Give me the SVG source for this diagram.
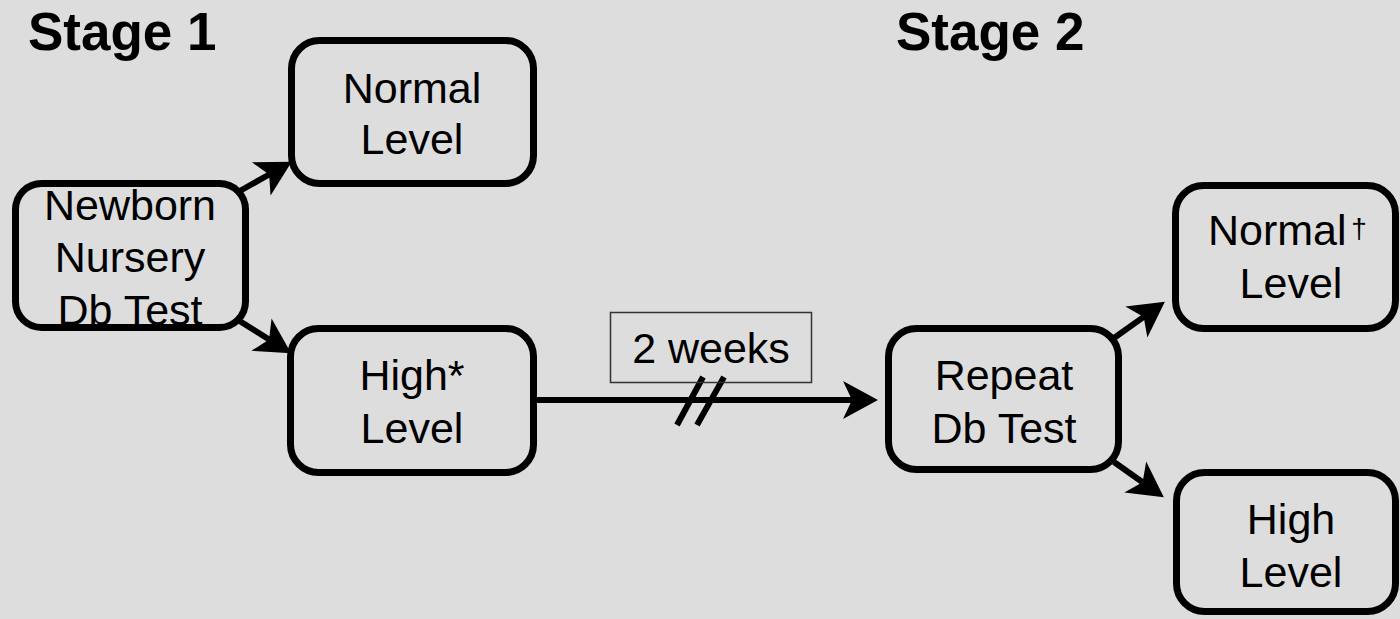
<svg xmlns="http://www.w3.org/2000/svg" width="1400" height="619" viewBox="0 0 1400 619">
<style>
.bg{fill:#dddddd}
.node{fill:none;stroke:#000;stroke-width:7}
.lbl{font-family:"Liberation Sans",Arial,sans-serif;font-size:43px;fill:#000;text-anchor:middle}
.stage{font-family:"Liberation Sans",Arial,sans-serif;font-weight:700;font-size:53px;fill:#000}
.conn{fill:none;stroke:#000;stroke-width:6}
</style>
<defs>
<marker id="ah" markerUnits="userSpaceOnUse" markerWidth="40" markerHeight="40" viewBox="0 -20 36 40" refX="9" refY="0" orient="auto">
<path d="M0,-19 L35,0 L0,19 L9,0 Z" fill="#000"/>
</marker>
</defs>
<rect class="bg" x="0" y="0" width="1400" height="619"/>
<text class="stage" x="28" y="50">Stage 1</text>
<text class="stage" x="896" y="50">Stage 2</text>
<g id="connectors">
<path class="conn" d="M238,192 L269.1,174.5" marker-end="url(#ah)"/>
<path class="conn" d="M238,320 L269.1,339.5" marker-end="url(#ah)"/>
<path class="conn" d="M534,400 L852,400" marker-end="url(#ah)"/>
<path class="conn" d="M1114,338 L1143.7,316.9" marker-end="url(#ah)"/>
<path class="conn" d="M1114,462 L1142.6,482.2" marker-end="url(#ah)"/>
<line class="conn" x1="677" y1="425" x2="703" y2="377"/>
<line class="conn" x1="697" y1="425" x2="724" y2="377"/>
</g>
<g id="weeks">
<rect x="610.5" y="312.5" width="201" height="70" fill="none" stroke="#333" stroke-width="1.5"/>
<text class="lbl" x="711" y="363">2 weeks</text>
</g>
<g id="newborn">
<rect class="node" x="15.5" y="183.5" width="230" height="144" rx="26"/>
<text class="lbl" x="130" y="220">Newborn</text>
<text class="lbl" x="130" y="272">Nursery</text>
<text class="lbl" x="130" y="325">Db Test</text>
</g>
<g id="normal1">
<rect class="node" x="291.5" y="40.5" width="242" height="143" rx="28"/>
<text class="lbl" x="412" y="103">Normal</text>
<text class="lbl" x="412" y="154">Level</text>
</g>
<g id="high1">
<rect class="node" x="290.5" y="328.5" width="243" height="144" rx="28"/>
<text class="lbl" x="412" y="390">High*</text>
<text class="lbl" x="412" y="443">Level</text>
</g>
<g id="repeat">
<rect class="node" x="888.5" y="328.5" width="230" height="141" rx="28"/>
<text class="lbl" x="1004" y="390">Repeat</text>
<text class="lbl" x="1004" y="443">Db Test</text>
</g>
<g id="normal2">
<rect class="node" x="1175.5" y="185.5" width="220" height="143" rx="28"/>
<text class="lbl" x="1208" y="245" style="text-anchor:start">Normal</text>
<text class="lbl" x="1359" y="238" style="font-size:28px">†</text>
<text class="lbl" x="1291" y="298">Level</text>
</g>
<g id="high2">
<rect class="node" x="1176.5" y="472.5" width="219" height="139" rx="28"/>
<text class="lbl" x="1291" y="534">High</text>
<text class="lbl" x="1291" y="587">Level</text>
</g>
</svg>
